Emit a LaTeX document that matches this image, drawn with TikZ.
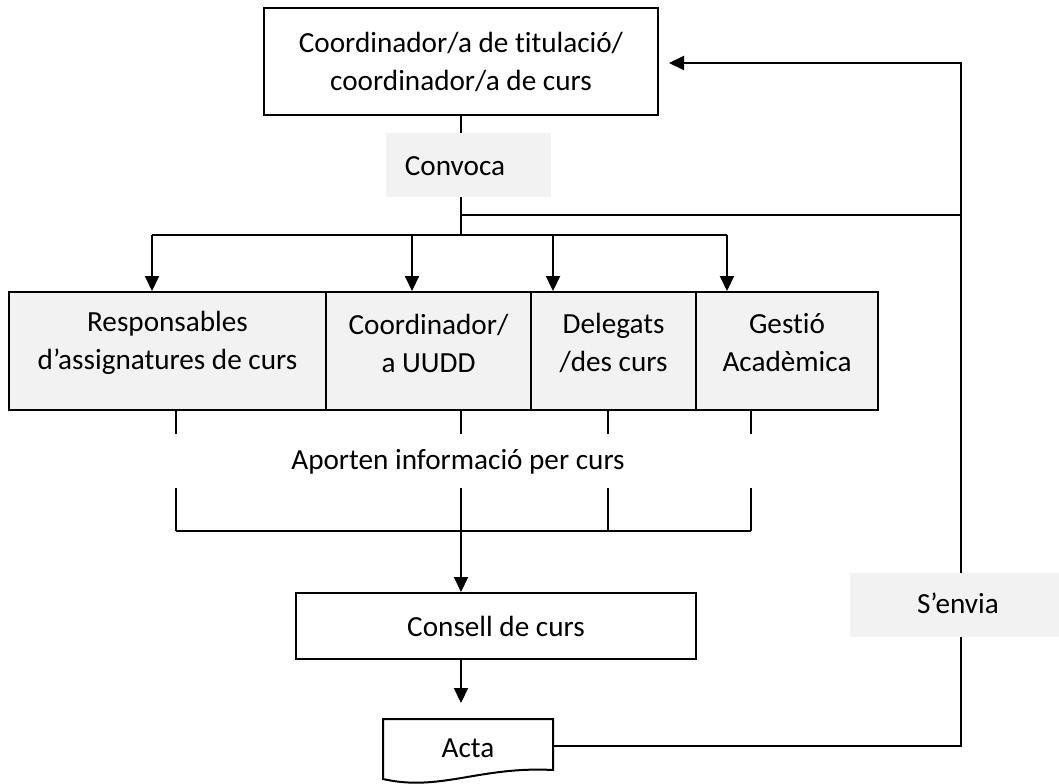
\documentclass[tikz,border=0pt]{standalone}
\usepackage{fontspec}
\setmainfont[Ligatures=NoCommon]{Carlito}
\usetikzlibrary{arrows.meta}
\definecolor{lightgray}{HTML}{F2F2F2}
\begin{document}
\begin{tikzpicture}[x=0.5pt,y=-0.5pt,
  line width=1pt,
  arr/.style={-{Triangle[width=7pt,length=7.5pt]}},
  box/.style={draw, inner sep=0pt, line width=1pt},
  gbox/.style={box, fill=lightgray},
  lbl/.style={fill=lightgray, inner sep=0pt},
  txt/.style={font=\fontsize{14.6}{19}\selectfont, align=center, inner sep=0pt},
]
\useasboundingbox (0,0) rectangle (1059,783);

% top box
\node[box, minimum width=197pt, minimum height=53.5pt] (top) at (461,61.5) {};
\node[txt] (toptxt) at (461,62) {Coordinador/a de titulació/\\coordinador/a de curs};

% row boxes
\node[gbox, minimum width=158.5pt, minimum height=59pt] (b1) at (167.5,351) {};
\node[gbox, minimum width=102.5pt, minimum height=59pt] (b2) at (428.5,351) {};
\node[gbox, minimum width=82.5pt, minimum height=59pt] (b3) at (613.5,351) {};
\node[gbox, minimum width=91pt, minimum height=59pt] (b4) at (787,351) {};
\node[txt] (t1) at (167.5,343) {Responsables\\d’assignatures de curs};
\node[txt] (t2) at (428.5,343) {Coordinador/\\a UUDD};
\node[txt] (t3) at (613.5,343) {Delegats\\/des curs};
\node[txt] (t4) at (787,343) {Gestió\\Acadèmica};

% consell
\node[box, minimum width=200pt, minimum height=33pt, txt] (cons) at (496,626) {Consell de curs};

% acta
\draw (383,719) -- (553,719) -- (553,770) .. controls (480,766) and (440,792) .. (383,779) -- cycle;
\node[txt] (acta) at (468,748) {Acta};

% coordinates
\coordinate (jc) at (461,235);
\coordinate (jr) at (461,215);
\coordinate (rr) at (961,215);
\coordinate (d1) at (152,235);
\coordinate (d2) at (412,235);
\coordinate (d3) at (553,235);
\coordinate (d4) at (727,235);
\coordinate (u1) at (176,531);
\coordinate (u2) at (461,531);
\coordinate (u3) at (608,531);
\coordinate (u4) at (751,531);
\coordinate (actaE) at (553,746);
\coordinate (back) at (669,63);
\coordinate (actaN) at (461,703);

% convoca branch
\draw (top.south -| jc) -- (jc);
\draw (jr) -- (rr);
\draw (d1) -- (d4);
\draw[arr] (d1) -- (d1 |- b1.north);
\draw[arr] (d2) -- (d2 |- b2.north);
\draw[arr] (d3) -- (d3 |- b3.north);
\draw[arr] (d4) -- (d4 |- b4.north);

% aporten
\draw (u1 |- b1.south) -- ++(0,23);
\draw (u2 |- b2.south) -- ++(0,23);
\draw (u3 |- b3.south) -- ++(0,23);
\draw (u4 |- b4.south) -- ++(0,23);
\draw (u1) -- ++(0,-43);
\draw (u2) -- ++(0,-43);
\draw (u3) -- ++(0,-43);
\draw (u4) -- ++(0,-43);
\draw (u1) -- (u4);
\node[txt] (aport) at (458,462) {Aporten informació per curs};
\draw[arr] (u2) -- (u2 |- cons.north);
\draw[arr] (u2 |- cons.south) -- (actaN);

% feedback
\draw[arr] (actaE) -| (rr) |- (back);

% labels
\node[lbl, minimum width=82.5pt, minimum height=32pt] (conv) at (468.5,165) {};
\node[txt] (convt) at (455,166) {Convoca};
\node[lbl, minimum width=104.5pt, minimum height=32pt] (env) at (954.5,605) {};
\node[txt] (envt) at (958,603) {S’envia};
\end{tikzpicture}
\end{document}
